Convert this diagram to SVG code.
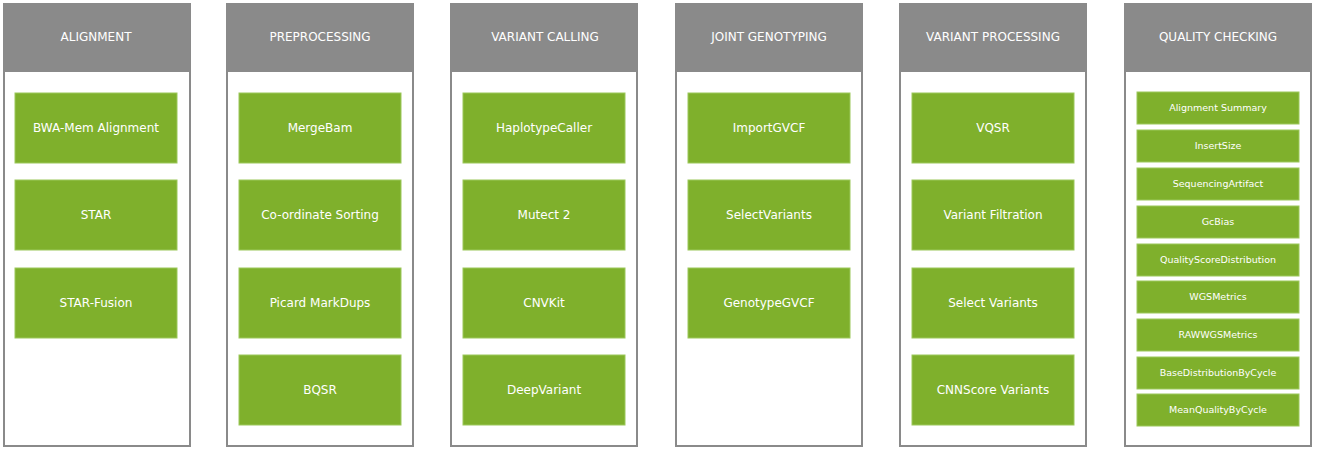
<svg xmlns="http://www.w3.org/2000/svg" width="1317" height="449" viewBox="0 0 1317 449">
<style>
.panel{fill:#fff;stroke:#8a8a8a;stroke-width:2}
.hdr{fill:#8a8a8a}
.ht{fill:#fff;font-family:"DejaVu Sans",sans-serif;font-size:12px;text-anchor:middle}
.box{fill:#7fb02c;stroke:#9cc85a;stroke-width:1}
.bt{fill:#fff;font-family:"DejaVu Sans",sans-serif;font-size:12px;text-anchor:middle}
.st{fill:#fff;font-family:"DejaVu Sans",sans-serif;font-size:9.5px;text-anchor:middle}
</style>
<rect width="1317" height="449" fill="#fff"/>
<g id="col-alignment">
<rect class="panel" x="4" y="4" width="186" height="442"/><rect class="hdr" x="3" y="3" width="188" height="69"/>
<text class="ht" x="96" y="41">ALIGNMENT</text>
<g id="n-bwa"><rect class="box" x="15" y="93" width="162" height="70"/><text class="bt" x="96" y="132">BWA-Mem Alignment</text></g>
<g id="n-star"><rect class="box" x="15" y="180" width="162" height="70"/><text class="bt" x="96" y="219">STAR</text></g>
<g id="n-starfusion"><rect class="box" x="15" y="268" width="162" height="70"/><text class="bt" x="96" y="307">STAR-Fusion</text></g>
</g>
<g id="col-preprocessing">
<rect class="panel" x="227" y="4" width="186" height="442"/><rect class="hdr" x="226" y="3" width="188" height="69"/>
<text class="ht" x="320" y="41">PREPROCESSING</text>
<g id="n-mergebam"><rect class="box" x="239" y="93" width="162" height="70"/><text class="bt" x="320" y="132">MergeBam</text></g>
<g id="n-sort"><rect class="box" x="239" y="180" width="162" height="70"/><text class="bt" x="320" y="219">Co-ordinate Sorting</text></g>
<g id="n-markdups"><rect class="box" x="239" y="268" width="162" height="70"/><text class="bt" x="320" y="307">Picard MarkDups</text></g>
<g id="n-bqsr"><rect class="box" x="239" y="355" width="162" height="70"/><text class="bt" x="320" y="394">BQSR</text></g>
</g>
<g id="col-variantcalling">
<rect class="panel" x="451" y="4" width="186" height="442"/><rect class="hdr" x="450" y="3" width="188" height="69"/>
<text class="ht" x="545" y="41">VARIANT CALLING</text>
<g id="n-hc"><rect class="box" x="463" y="93" width="162" height="70"/><text class="bt" x="544" y="132">HaplotypeCaller</text></g>
<g id="n-mutect"><rect class="box" x="463" y="180" width="162" height="70"/><text class="bt" x="544" y="219">Mutect 2</text></g>
<g id="n-cnvkit"><rect class="box" x="463" y="268" width="162" height="70"/><text class="bt" x="544" y="307">CNVKit</text></g>
<g id="n-deepvariant"><rect class="box" x="463" y="355" width="162" height="70"/><text class="bt" x="544" y="394">DeepVariant</text></g>
</g>
<g id="col-joint">
<rect class="panel" x="676" y="4" width="186" height="442"/><rect class="hdr" x="675" y="3" width="188" height="69"/>
<text class="ht" x="769" y="41">JOINT GENOTYPING</text>
<g id="n-import"><rect class="box" x="688" y="93" width="162" height="70"/><text class="bt" x="769" y="132">ImportGVCF</text></g>
<g id="n-select1"><rect class="box" x="688" y="180" width="162" height="70"/><text class="bt" x="769" y="219">SelectVariants</text></g>
<g id="n-genotype"><rect class="box" x="688" y="268" width="162" height="70"/><text class="bt" x="769" y="307">GenotypeGVCF</text></g>
</g>
<g id="col-vp">
<rect class="panel" x="900" y="4" width="186" height="442"/><rect class="hdr" x="899" y="3" width="188" height="69"/>
<text class="ht" x="993" y="41">VARIANT PROCESSING</text>
<g id="n-vqsr"><rect class="box" x="912" y="93" width="162" height="70"/><text class="bt" x="993" y="132">VQSR</text></g>
<g id="n-filt"><rect class="box" x="912" y="180" width="162" height="70"/><text class="bt" x="993" y="219">Variant Filtration</text></g>
<g id="n-select2"><rect class="box" x="912" y="268" width="162" height="70"/><text class="bt" x="993" y="307">Select Variants</text></g>
<g id="n-cnn"><rect class="box" x="912" y="355" width="162" height="70"/><text class="bt" x="993" y="394">CNNScore Variants</text></g>
</g>
<g id="col-qc">
<rect class="panel" x="1125" y="4" width="186" height="442"/><rect class="hdr" x="1124" y="3" width="188" height="69"/>
<text class="ht" x="1218" y="41">QUALITY CHECKING</text>
<g id="q1"><rect class="box" x="1137" y="92" width="162" height="32"/><text class="st" x="1218" y="111">Alignment Summary</text></g>
<g id="q2"><rect class="box" x="1137" y="130" width="162" height="32"/><text class="st" x="1218" y="149">InsertSize</text></g>
<g id="q3"><rect class="box" x="1137" y="168" width="162" height="32"/><text class="st" x="1218" y="187">SequencingArtifact</text></g>
<g id="q4"><rect class="box" x="1137" y="206" width="162" height="32"/><text class="st" x="1218" y="225">GcBias</text></g>
<g id="q5"><rect class="box" x="1137" y="244" width="162" height="32"/><text class="st" x="1218" y="263">QualityScoreDistribution</text></g>
<g id="q6"><rect class="box" x="1137" y="281" width="162" height="32"/><text class="st" x="1218" y="300">WGSMetrics</text></g>
<g id="q7"><rect class="box" x="1137" y="319" width="162" height="32"/><text class="st" x="1218" y="338">RAWWGSMetrics</text></g>
<g id="q8"><rect class="box" x="1137" y="357" width="162" height="32"/><text class="st" x="1218" y="376">BaseDistributionByCycle</text></g>
<g id="q9"><rect class="box" x="1137" y="394" width="162" height="32"/><text class="st" x="1218" y="413">MeanQualityByCycle</text></g>
</g>
<g id="connectors"/>
</svg>
